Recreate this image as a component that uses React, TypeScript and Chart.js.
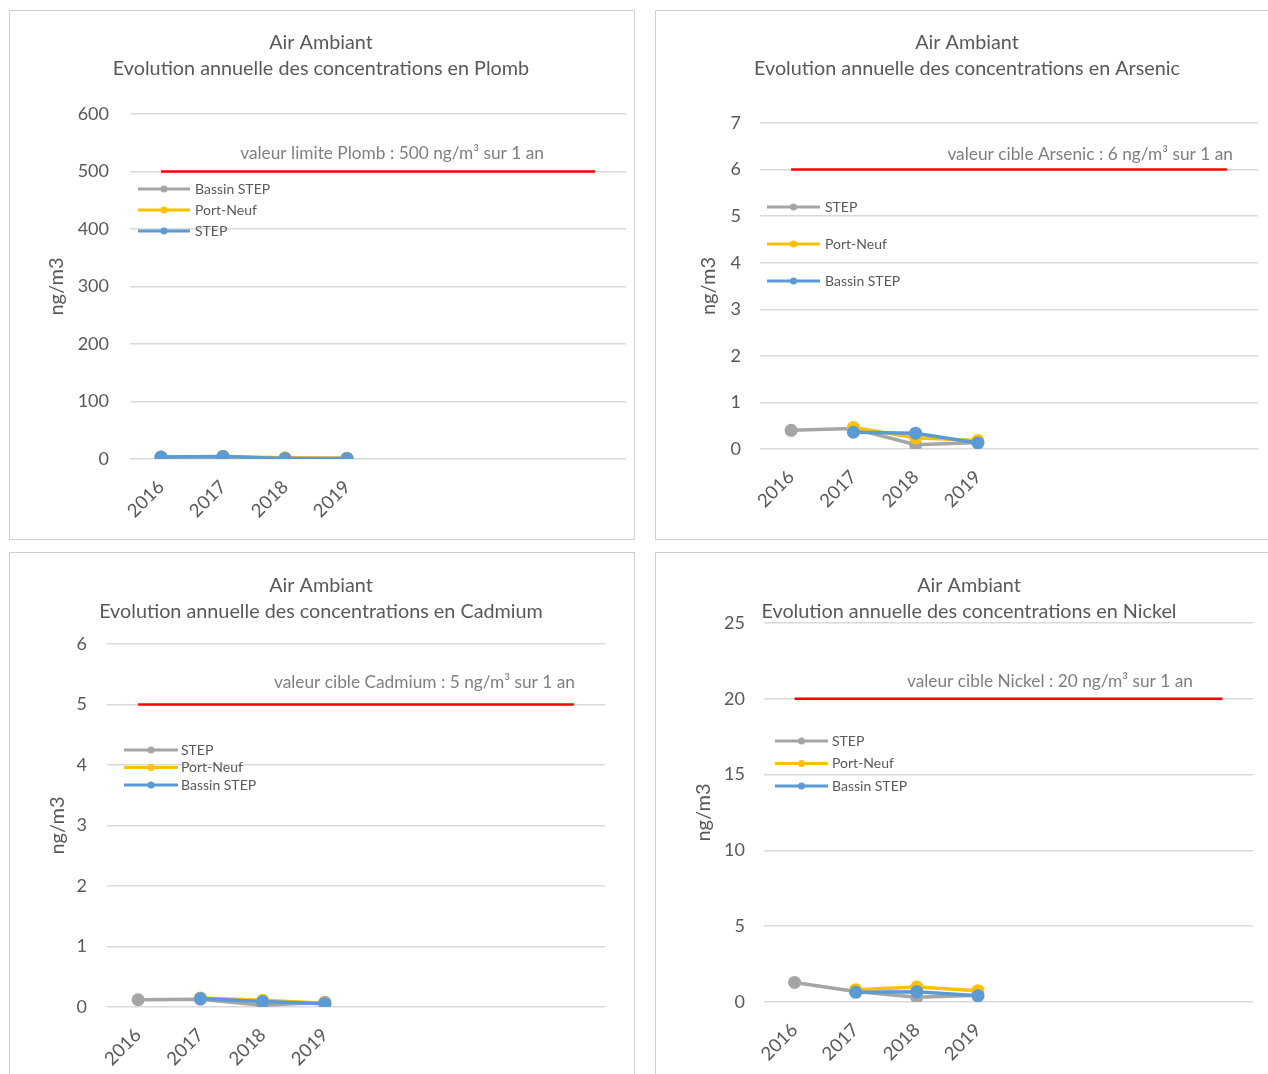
import React, { useEffect, useRef } from "react";
import { Chart, registerables } from "chart.js";

Chart.register(...registerables);

// ---------- data ----------
const years = ["2016", "2017", "2018", "2019", "", "", "", ""];

const plombStep = [3.5, 4.5, 1, 1, null, null, null, null];
const plombPortNeuf = [null, 4.5, 2, 1.5, null, null, null, null];
const plombBassin = [3.5, 4, 0.5, 1, null, null, null, null];
const plombLimit = [500, 500, 500, 500, 500, 500, 500, 500];

const arsenicStep = [0.4, 0.44, 0.09, 0.14, null, null, null, null];
const arsenicPortNeuf = [null, 0.46, 0.24, 0.18, null, null, null, null];
const arsenicBassin = [null, 0.36, 0.34, 0.13, null, null, null, null];
const arsenicLimit = [6, 6, 6, 6, 6, 6, 6, 6];

const cadmiumStep = [0.12, 0.13, 0.03, 0.08, null, null, null, null];
const cadmiumPortNeuf = [null, 0.15, 0.11, 0.06, null, null, null, null];
const cadmiumBassin = [null, 0.14, 0.09, 0.055, null, null, null, null];
const cadmiumLimit = [5, 5, 5, 5, 5, 5, 5, 5];

const nickelStep = [1.29, 0.7, 0.31, 0.45, null, null, null, null];
const nickelPortNeuf = [null, 0.81, 0.99, 0.75, null, null, null, null];
const nickelBassin = [null, 0.64, 0.68, 0.41, null, null, null, null];
const nickelLimit = [20, 20, 20, 20, 20, 20, 20, 20];

const GRAY = "#a5a5a5";
const YELLOW = "#ffc000";
const BLUE = "#5b9bd5";
const RED = "#ff0000";
const FONT = "Lato, 'Open Sans', sans-serif";

type Cfg = {
  box: { left: number; top: number; width: number; height: number };
  canvas: { w: number; h: number };
  area: { left: number; right: number; top: number; bottom: number };
  title: { cx: number; ys: number[]; lines: string[] };
  yTitlePad: number;
  tickPad: number;
  yMax: number;
  yStep: number;
  limit: number[];
  limitText: string;
  limitRight: number;
  limitDy: number;
  legend: { x0: number; x1: number; tx: number; y0: number; gap: number; items: { label: string; color: string }[] };
  series: { label: string; color: string; data: (number | null)[]; order: number }[];
};

const configs: Cfg[] = [
  {
    box: { left: 9, top: 10, width: 626, height: 530 },
    canvas: { w: 624, h: 528 },
    area: { left: 120, right: 616, top: 103, bottom: 448 },
    title: { cx: 311, ys: [32, 58], lines: ["Air Ambiant", "Evolution annuelle des concentrations en Plomb"] },
    yTitlePad: 35,
    tickPad: 21,
    yMax: 600,
    yStep: 100,
    limit: plombLimit,
    limitText: "valeur limite Plomb : 500 ng/m³ sur 1 an",
    limitRight: 82,
    limitDy: -18,
    legend: {
      x0: 8, x1: 60, tx: 65, y0: 75, gap: 21,
      items: [
        { label: "Bassin STEP", color: GRAY },
        { label: "Port-Neuf", color: YELLOW },
        { label: "STEP", color: BLUE },
      ],
    },
    series: [
      { label: "STEP", color: BLUE, data: plombStep, order: 1 },
      { label: "Port-Neuf", color: YELLOW, data: plombPortNeuf, order: 2 },
      { label: "Bassin STEP", color: GRAY, data: plombBassin, order: 3 },
    ],
  },
  {
    box: { left: 655, top: 10, width: 640, height: 530 },
    canvas: { w: 612, h: 528 },
    area: { left: 104, right: 602, top: 112, bottom: 438 },
    title: { cx: 311, ys: [32, 58], lines: ["Air Ambiant", "Evolution annuelle des concentrations en Arsenic"] },
    yTitlePad: 41,
    tickPad: 19,
    yMax: 7,
    yStep: 1,
    limit: arsenicLimit,
    limitText: "valeur cible Arsenic : 6 ng/m³ sur 1 an",
    limitRight: 25,
    limitDy: -15,
    legend: {
      x0: 7, x1: 60, tx: 65, y0: 84, gap: 37,
      items: [
        { label: "STEP", color: GRAY },
        { label: "Port-Neuf", color: YELLOW },
        { label: "Bassin STEP", color: BLUE },
      ],
    },
    series: [
      { label: "Bassin STEP", color: BLUE, data: arsenicBassin, order: 1 },
      { label: "Port-Neuf", color: YELLOW, data: arsenicPortNeuf, order: 2 },
      { label: "STEP", color: GRAY, data: arsenicStep, order: 3 },
    ],
  },
  {
    box: { left: 9, top: 552, width: 626, height: 540 },
    canvas: { w: 624, h: 521 },
    area: { left: 97, right: 595, top: 91, bottom: 454 },
    title: { cx: 311, ys: [33, 59], lines: ["Air Ambiant", "Evolution annuelle des concentrations en Cadmium"] },
    yTitlePad: 36,
    tickPad: 20,
    yMax: 6,
    yStep: 1,
    limit: cadmiumLimit,
    limitText: "valeur cible Cadmium : 5 ng/m³ sur 1 an",
    limitRight: 30,
    limitDy: -22,
    legend: {
      x0: 17, x1: 71, tx: 74, y0: 106, gap: 17.5,
      items: [
        { label: "STEP", color: GRAY },
        { label: "Port-Neuf", color: YELLOW },
        { label: "Bassin STEP", color: BLUE },
      ],
    },
    series: [
      { label: "Bassin STEP", color: BLUE, data: cadmiumBassin, order: 1 },
      { label: "Port-Neuf", color: YELLOW, data: cadmiumPortNeuf, order: 2 },
      { label: "STEP", color: GRAY, data: cadmiumStep, order: 3 },
    ],
  },
  {
    box: { left: 655, top: 552, width: 640, height: 540 },
    canvas: { w: 612, h: 521 },
    area: { left: 108, right: 597, top: 70, bottom: 449 },
    title: { cx: 313, ys: [33, 59], lines: ["Air Ambiant", "Evolution annuelle des concentrations en Nickel"] },
    yTitlePad: 36,
    tickPad: 19,
    yMax: 25,
    yStep: 5,
    limit: nickelLimit,
    limitText: "valeur cible Nickel : 20 ng/m³ sur 1 an",
    limitRight: 60,
    limitDy: -17,
    legend: {
      x0: 11, x1: 64, tx: 68, y0: 118, gap: 22.5,
      items: [
        { label: "STEP", color: GRAY },
        { label: "Port-Neuf", color: YELLOW },
        { label: "Bassin STEP", color: BLUE },
      ],
    },
    series: [
      { label: "Bassin STEP", color: BLUE, data: nickelBassin, order: 1 },
      { label: "Port-Neuf", color: YELLOW, data: nickelPortNeuf, order: 2 },
      { label: "STEP", color: GRAY, data: nickelStep, order: 3 },
    ],
  },
];

function makeOverlay(cfg: Cfg) {
  return {
    id: "overlay",
    afterDraw(chart: any) {
      const ctx = chart.ctx as CanvasRenderingContext2D;
      const { left, right, top } = chart.chartArea;
      ctx.save();
      // titles
      ctx.fillStyle = "#595959";
      ctx.font = `19.8px ${FONT}`;
      ctx.textAlign = "center";
      ctx.textBaseline = "middle";
      cfg.title.lines.forEach((t, i) => ctx.fillText(t, cfg.title.cx, cfg.title.ys[i]));
      // limit label
      const yLim = chart.scales.y.getPixelForValue(cfg.limit[0]);
      ctx.fillStyle = "#7f7f7f";
      ctx.font = `17.3px ${FONT}`;
      ctx.textAlign = "right";
      ctx.fillText(cfg.limitText, right - cfg.limitRight, yLim + cfg.limitDy);
      // legend
      const L = cfg.legend;
      L.items.forEach((it, i) => {
        const y = top + L.y0 + i * L.gap;
        ctx.strokeStyle = it.color;
        ctx.lineWidth = 3;
        ctx.beginPath();
        ctx.moveTo(left + L.x0, y);
        ctx.lineTo(left + L.x1, y);
        ctx.stroke();
        ctx.fillStyle = it.color;
        ctx.beginPath();
        ctx.arc(left + (L.x0 + L.x1) / 2, y, 3.5, 0, Math.PI * 2);
        ctx.fill();
        ctx.fillStyle = "#595959";
        ctx.font = `14px ${FONT}`;
        ctx.textAlign = "left";
        ctx.fillText(it.label, left + L.tx, y);
      });
      ctx.restore();
    },
  };
}

function Panel({ cfg }: { cfg: Cfg }) {
  const ref = useRef<HTMLCanvasElement>(null);
  useEffect(() => {
    if (!ref.current) return;
    const datasets: any[] = cfg.series.map((s) => ({
      label: s.label,
      data: s.data,
      borderColor: s.color,
      backgroundColor: s.color,
      pointBackgroundColor: s.color,
      pointBorderColor: s.color,
      pointBorderWidth: 0,
      pointRadius: 6.5,
      borderWidth: 3.5,
      tension: 0,
      order: s.order,
    }));
    datasets.push({
      label: "limite",
      data: cfg.limit,
      borderColor: RED,
      backgroundColor: RED,
      borderWidth: 2.5,
      pointRadius: 0,
      order: 4,
    });
    const chart = new Chart(ref.current, {
      type: "line",
      data: { labels: years, datasets },
      options: {
        animation: false,
        responsive: false,
        layout: {
          padding: { top: cfg.area.top, right: cfg.canvas.w - cfg.area.right, left: 0, bottom: 0 },
        },
        plugins: { legend: { display: false }, title: { display: false }, tooltip: { enabled: false } },
        scales: {
          x: {
            type: "category",
            offset: true,
            grid: { display: false, drawTicks: false },
            border: { display: false },
            ticks: {
              autoSkip: false,
              minRotation: 45,
              maxRotation: 45,
              padding: 17,
              color: "#595959",
              font: { family: FONT, size: 18.5 },
            },
            afterFit: (scale: any) => {
              scale.height = cfg.canvas.h - cfg.area.bottom;
            },
          },
          y: {
            min: 0,
            max: cfg.yMax,
            ticks: {
              stepSize: cfg.yStep,
              padding: cfg.tickPad,
              color: "#595959",
              font: { family: FONT, size: 18 },
            },
            grid: { color: "#d9d9d9", lineWidth: 1.5, drawTicks: false },
            border: { display: false },
            title: {
              display: true,
              text: "ng/m3",
              color: "#595959",
              font: { family: FONT, size: 20 },
              padding: { top: cfg.yTitlePad, bottom: 0 },
            },
            afterFit: (scale: any) => {
              scale.width = cfg.area.left;
            },
          },
        },
      },
      plugins: [makeOverlay(cfg)],
    } as any);
    return () => chart.destroy();
  }, []);
  return (
    <div
      style={{
        position: "absolute",
        left: cfg.box.left,
        top: cfg.box.top,
        width: cfg.box.width,
        height: cfg.box.height,
        border: "1px solid #d0d0d0",
        boxSizing: "border-box",
        background: "#fff",
      }}
    >
      <canvas
        ref={ref}
        width={cfg.canvas.w}
        height={cfg.canvas.h}
        style={{ position: "absolute", left: 0, top: 0, width: cfg.canvas.w, height: cfg.canvas.h }}
      />
    </div>
  );
}

export default function App() {
  return (
    <div
      style={{
        position: "fixed",
        left: 0,
        top: 0,
        width: 1268,
        height: 1074,
        overflow: "hidden",
        background: "#fff",
      }}
    >
      {configs.map((c, i) => (
        <Panel key={i} cfg={c} />
      ))}
    </div>
  );
}
